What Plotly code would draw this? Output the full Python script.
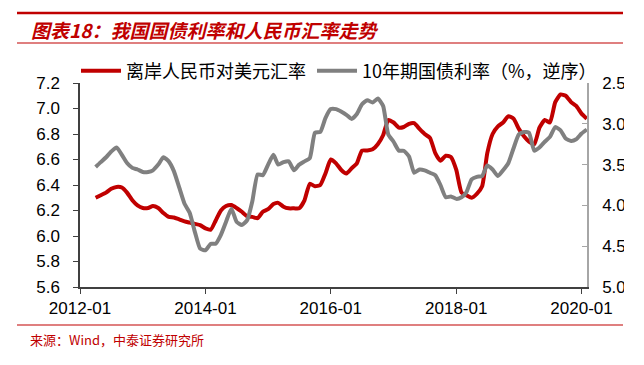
import pandas as pd
import plotly.graph_objects as go

# ---- data ----
start_month = "2012-04-01"
cnh_usd = [
    6.30, 6.32, 6.34, 6.37, 6.385, 6.38, 6.34, 6.28, 6.24,
    6.22, 6.22, 6.235, 6.22, 6.18, 6.15, 6.145, 6.13, 6.115, 6.105, 6.095, 6.085,
    6.06, 6.05, 6.12, 6.20, 6.235, 6.243, 6.22, 6.19, 6.155, 6.15, 6.14, 6.19,
    6.21, 6.25, 6.26, 6.23, 6.217, 6.217, 6.217, 6.28, 6.41, 6.39, 6.40, 6.49,
    6.60, 6.57, 6.52, 6.49, 6.53, 6.57, 6.67, 6.67, 6.68, 6.72, 6.79, 6.91,
    6.89, 6.85, 6.855, 6.88, 6.885, 6.84, 6.80, 6.77, 6.65, 6.59, 6.63, 6.62,
    6.52, 6.34, 6.32, 6.30, 6.33, 6.39, 6.65, 6.80, 6.86, 6.89, 6.94, 6.92,
    6.84, 6.78, 6.74, 6.72, 6.85, 6.91, 6.89, 7.05, 7.11, 7.10, 7.05, 7.02,
    6.96, 6.92,
]
cgb_10y = [
    3.53, 3.47, 3.41, 3.34, 3.29, 3.38, 3.48, 3.54, 3.56,
    3.59, 3.59, 3.57, 3.50, 3.41, 3.46, 3.58, 3.78, 3.98, 4.09, 4.33, 4.53,
    4.55, 4.47, 4.47, 4.36, 4.20, 4.04, 4.20, 4.24, 4.18, 3.95, 3.62, 3.63,
    3.50, 3.38, 3.50, 3.47, 3.46, 3.57, 3.50, 3.46, 3.42, 3.11, 3.10, 2.93,
    2.82, 2.82, 2.85, 2.89, 2.94, 2.88, 2.76, 2.71, 2.74, 2.69, 2.78, 3.13,
    3.22, 3.33, 3.33, 3.40, 3.60, 3.56, 3.57, 3.60, 3.63, 3.75, 3.90, 3.89,
    3.92, 3.90, 3.84, 3.68, 3.65, 3.64, 3.51, 3.56, 3.64, 3.57, 3.48, 3.30,
    3.13, 3.10, 3.11, 3.33, 3.29, 3.22, 3.16, 3.04, 3.08, 3.18, 3.21, 3.19,
    3.12, 3.07,
]
x_tick_vals = ["2012-01-01", "2014-01-01", "2016-01-01", "2018-01-01", "2020-01-01"]
x_tick_text = ["2012-01", "2014-01", "2016-01", "2018-01", "2020-01"]
name_cnh = "离岸人民币对美元汇率"
name_cgb = "10年期国债利率（%，逆序）"
title_text = "图表18：我国国债利率和人民币汇率走势"
source_text = "来源：Wind，中泰证券研究所"

dates = pd.date_range(start_month, periods=len(cnh_usd), freq="MS")

# ---- layout geometry (pixels) ----
W, H = 644, 365
L, R, T, B = 80, 587, 83, 287
pw, ph = R - L, B - T


def px(x):
    return (x - L) / pw


def py(y):
    return (B - y) / ph


RED = "#C00000"
GRAY = "#808080"
tick_font = dict(family="Liberation Sans, Arial, sans-serif", size=17, color="#000000")
legend_font = dict(family="Noto Sans CJK SC", size=18, color="#000000")

fig = go.Figure()
fig.add_trace(go.Scatter(
    x=dates, y=cnh_usd, name=name_cnh, mode="lines",
    line=dict(color=RED, width=4, shape="spline", smoothing=0.5),
    yaxis="y", legend="legend",
))
fig.add_trace(go.Scatter(
    x=dates, y=cgb_10y, name=name_cgb, mode="lines",
    line=dict(color=GRAY, width=4, shape="spline", smoothing=0.5),
    yaxis="y2", legend="legend2",
))

fig.update_layout(
    width=W, height=H,
    margin=dict(l=L, r=W - R, t=T, b=H - B, pad=0, autoexpand=False),
    paper_bgcolor="white", plot_bgcolor="white",
    showlegend=True,
    legend=dict(
        orientation="h", x=px(76), y=py(71), xanchor="left", yanchor="middle",
        font=legend_font, itemwidth=40, bgcolor="rgba(0,0,0,0)",
    ),
    legend2=dict(
        orientation="h", x=px(312), y=py(71), xanchor="left", yanchor="middle",
        font=legend_font, itemwidth=40, bgcolor="rgba(0,0,0,0)",
    ),
    xaxis=dict(
        type="date", range=["2012-01-01", "2020-02-02"],
        tickvals=x_tick_vals, ticktext=x_tick_text,
        ticks="outside", ticklen=5, tickcolor="#404040",
        showline=True, linecolor="#404040", linewidth=1.5,
        showgrid=False, zeroline=False, tickfont=tick_font,
    ),
    yaxis=dict(
        range=[5.6, 7.2], dtick=0.2, tick0=5.6, tickformat=".1f",
        ticks="outside", ticklen=5, tickcolor="#404040",
        showline=True, linecolor="#404040", linewidth=1.5,
        showgrid=False, zeroline=False, tickfont=tick_font,
        ticklabelstandoff=10,
    ),
    yaxis2=dict(
        overlaying="y", side="right", autorange=False, range=[5.0, 2.5],
        dtick=0.5, tick0=2.5, tickformat=".1f",
        ticks="inside", ticklen=5, tickcolor="#A6A6A6",
        showline=True, linecolor="#A6A6A6", linewidth=1.5,
        showgrid=False, zeroline=False, tickfont=tick_font,
        ticklabelstandoff=10,
    ),
)

shapes = [
    dict(type="line", xref="paper", yref="paper", x0=px(17), x1=px(623), y0=py(13), y1=py(13),
         line=dict(color=RED, width=2.5)),
    dict(type="line", xref="paper", yref="paper", x0=px(17), x1=px(623), y0=py(43), y1=py(43),
         line=dict(color=RED, width=1.2)),
    dict(type="line", xref="paper", yref="paper", x0=px(17), x1=px(623), y0=py(325), y1=py(325),
         line=dict(color=RED, width=1.2)),
    dict(type="rect", xref="paper", yref="paper", x0=px(624), x1=px(650), y0=py(-5), y1=py(370),
         fillcolor="white", line=dict(width=0), layer="above"),
]
fig.update_layout(shapes=shapes)

fig.add_annotation(
    text=title_text, xref="paper", yref="paper", x=px(29), y=py(29),
    xanchor="left", yanchor="middle", showarrow=False,
    font=dict(family="Noto Sans CJK SC", size=19, color=RED, weight="bold", style="italic"),
)
fig.add_annotation(
    text=source_text, xref="paper", yref="paper", x=px(28), y=py(339),
    xanchor="left", yanchor="middle", showarrow=False,
    font=dict(family="Noto Sans CJK SC", size=13, color=RED),
)

fig.write_html(
    "out.html",
    config={"displayModeBar": False},
    post_script="document.body.style.margin='0px';",
)
